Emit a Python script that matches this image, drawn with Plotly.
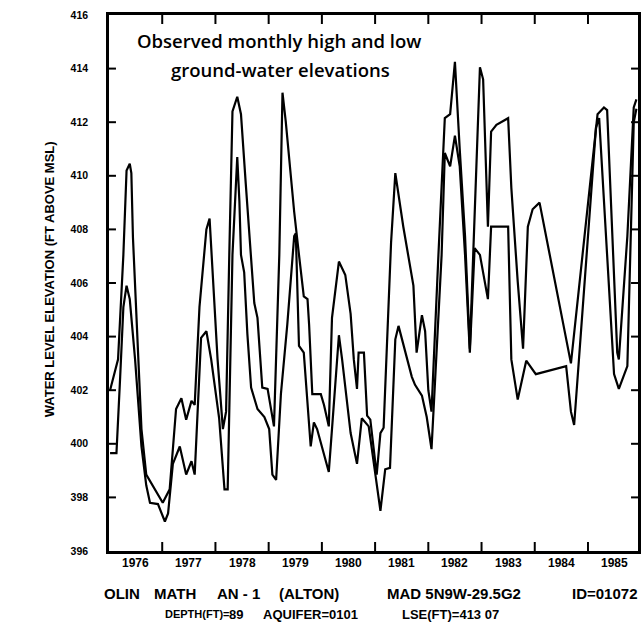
import plotly.graph_objects as go

# Monthly high water level (ft above MSL), decimal year vs elevation
high_year = [1976.02, 1976.17, 1976.27, 1976.33, 1976.39, 1976.42, 1976.45, 1976.52, 1976.61, 1976.70,
             1977.01, 1977.14, 1977.26, 1977.36, 1977.45, 1977.55, 1977.61, 1977.70, 1977.83, 1977.89,
             1977.95, 1978.04, 1978.14, 1978.20, 1978.26, 1978.32, 1978.41, 1978.48, 1978.57, 1978.73,
             1978.79, 1978.88, 1978.98, 1979.07, 1979.10, 1979.20, 1979.26, 1979.32, 1979.48, 1979.57,
             1979.66, 1979.73, 1979.76, 1979.82, 1979.98, 1980.04, 1980.13, 1980.19, 1980.32, 1980.44,
             1980.54, 1980.60, 1980.66, 1980.69, 1980.79, 1980.85, 1980.91, 1981.03, 1981.10, 1981.16,
             1981.30, 1981.38, 1981.53, 1981.72, 1981.78, 1981.88, 1981.94, 1982.00, 1982.06, 1982.19,
             1982.31, 1982.41, 1982.50, 1982.59, 1982.69, 1982.78, 1982.87, 1982.97, 1983.03, 1983.12,
             1983.18, 1983.28, 1983.50, 1983.56, 1983.68, 1983.78, 1983.87, 1983.96, 1984.09, 1984.68,
             1985.18, 1985.30, 1985.36, 1985.55, 1985.58, 1985.74, 1985.86, 1985.91]
high_ft = [402.0, 403.15, 407.05, 410.2, 410.45, 410.1, 407.7, 404.45, 400.55, 398.85,
           397.8, 398.3, 401.3, 401.7, 400.9, 401.6, 401.45, 405.1, 408.0, 408.4,
           406.4, 403.15, 400.55, 401.2, 407.05, 412.4, 412.95, 412.3, 409.7, 405.25,
           404.7, 402.1, 402.05, 401.05, 400.65, 407.05, 413.1, 412.05, 408.65, 407.05,
           405.5, 405.4, 404.45, 401.85, 401.85, 401.45, 400.65, 404.7, 406.8, 406.3,
           404.85, 403.15, 402.05, 403.4, 403.4, 401.05, 400.9, 398.85, 400.4, 400.6,
           407.5, 410.1, 408.1, 405.9, 403.4, 404.8, 404.2, 402.0, 401.2, 407.05,
           412.15, 412.3, 414.25, 411.0, 407.75, 403.55, 408.4, 414.05, 413.6, 408.1,
           411.65, 411.9, 412.15, 409.55, 406.05, 403.55, 408.1, 408.75, 409.0, 403.0,
           412.3, 412.55, 412.45, 403.4, 403.15, 407.75, 412.55, 412.85]

# Monthly low water level (ft above MSL)
low_year = [1976.02, 1976.14, 1976.21, 1976.27, 1976.33, 1976.39, 1976.49, 1976.61, 1976.70, 1976.77,
            1976.92, 1977.05, 1977.11, 1977.20, 1977.33, 1977.45, 1977.55, 1977.61, 1977.73, 1977.83,
            1977.92, 1978.07, 1978.17, 1978.23, 1978.32, 1978.41, 1978.45, 1978.48, 1978.54, 1978.60,
            1978.67, 1978.79, 1978.92, 1979.01, 1979.07, 1979.14, 1979.23, 1979.35, 1979.48, 1979.51,
            1979.57, 1979.66, 1979.79, 1979.85, 1979.91, 1980.13, 1980.19, 1980.32, 1980.38, 1980.54,
            1980.66, 1980.75, 1980.88, 1981.00, 1981.10, 1981.19, 1981.28, 1981.38, 1981.44, 1981.69,
            1981.75, 1981.88, 1981.97, 1982.06, 1982.25, 1982.31, 1982.41, 1982.50, 1982.59, 1982.69,
            1982.78, 1982.87, 1982.97, 1983.12, 1983.18, 1983.50, 1983.56, 1983.68, 1983.84, 1984.02,
            1984.59, 1984.68, 1984.74, 1985.15, 1985.21, 1985.49, 1985.58, 1985.74, 1985.86, 1985.91]
low_ft = [399.65, 399.65, 402.5, 405.1, 405.9, 405.4, 403.15, 399.9, 398.45, 397.8,
          397.75, 397.1, 397.4, 399.25, 399.9, 398.85, 399.35, 398.85, 403.95, 404.2,
          403.15, 400.95, 398.3, 398.3, 407.05, 410.7, 409.05, 407.05, 406.4, 404.1,
          402.1, 401.3, 401.0, 400.55, 398.85, 398.65, 401.85, 404.45, 407.75, 407.85,
          403.65, 403.4, 399.9, 400.8, 400.55, 398.95, 400.55, 404.05, 403.15, 400.4,
          399.25, 400.95, 400.65, 398.85, 397.5, 399.05, 399.1, 403.9, 404.4, 402.5,
          402.2, 401.8, 401.0, 399.8, 407.05, 410.85, 410.35, 411.5, 410.35, 407.05,
          403.4, 407.3, 407.05, 405.4, 408.1, 408.1, 403.15, 401.65, 403.1, 402.6,
          402.9, 401.2, 400.7, 411.8, 412.15, 402.6, 402.05, 402.9, 412.0, 412.5]

years = [1976, 1977, 1978, 1979, 1980, 1981, 1982, 1983, 1984, 1985]
elev_ticks = [396, 398, 400, 402, 404, 406, 408, 410, 412, 414, 416]

X_RANGE = [1976, 1985.94]
Y_RANGE = [396, 416]

W, H = 644, 631
L, R, T, B = 109, 3.5, 15, 80
plot_w = W - L - R
plot_h = H - T - B


def px_x(x):
    return (x - L) / plot_w


def px_y(y):
    return (H - B - y) / plot_h


fig = go.Figure()
line_style = dict(color="black", width=2.2)
fig.add_trace(go.Scatter(x=high_year, y=high_ft, mode="lines", line=line_style,
                         name="High", showlegend=False, hoverinfo="skip"))
fig.add_trace(go.Scatter(x=low_year, y=low_ft, mode="lines", line=line_style,
                         name="Low", showlegend=False, hoverinfo="skip"))

# Inward tick marks drawn as one segmented line: year boundaries on the
# bottom/top edges, 2-ft steps on the left/right edges
xt_len = 9 / plot_h * (Y_RANGE[1] - Y_RANGE[0])
yt_len = 7 / plot_w * (X_RANGE[1] - X_RANGE[0])
tick_x, tick_y = [], []
for yr in years[1:]:
    tick_x += [yr, yr, None, yr, yr, None]
    tick_y += [Y_RANGE[0], Y_RANGE[0] + xt_len, None, Y_RANGE[1], Y_RANGE[1] - xt_len, None]
for v in elev_ticks[1:-1]:
    tick_x += [X_RANGE[0], X_RANGE[0] + yt_len, None, X_RANGE[1], X_RANGE[1] - yt_len, None]
    tick_y += [v, v, None, v, v, None]
fig.add_trace(go.Scatter(x=tick_x, y=tick_y, mode="lines",
                         line=dict(color="black", width=2), showlegend=False,
                         hoverinfo="skip", connectgaps=False))

fig.update_xaxes(
    range=X_RANGE,
    showticklabels=False, ticks="",
    showgrid=False, zeroline=False,
    showline=True, linecolor="black", linewidth=2.5, mirror=True,
)
fig.update_yaxes(
    range=Y_RANGE,
    tickmode="array",
    tickvals=elev_ticks,
    ticktext=[str(v) for v in elev_ticks],
    ticks="", showgrid=False, zeroline=False,
    showline=True, linecolor="black", linewidth=2.5, mirror=True,
    tickfont=dict(family="Liberation Sans", size=10.5, color="black", weight="bold"),
    ticklabelstandoff=16,
)

year_font = dict(family="Liberation Sans", size=12, color="black", weight="bold")
annotations = [
    dict(text=str(y), x=y + 0.5, xref="x", y=px_y(563), font=year_font)
    for y in years
]

annotations += [
    dict(text="Observed monthly high and low", x=px_x(280), y=px_y(40),
         font=dict(family="Open Sans", size=18.5, color="black", weight=600)),
    dict(text="ground-water elevations", x=px_x(281), y=px_y(69),
         font=dict(family="Open Sans", size=18.5, color="black", weight=600)),
    dict(text="WATER LEVEL ELEVATION (FT ABOVE MSL)", x=px_x(49), y=px_y(279),
         textangle=-90,
         font=dict(family="Liberation Sans", size=13, color="black", weight="bold")),
]

line1_font = dict(family="Liberation Sans", size=15, color="black", weight="bold")
line2_font = dict(family="Liberation Sans", size=13, color="black", weight="bold")
footer = [
    ("OLIN", 102, 593, "left", line1_font),
    ("MATH", 152, 593, "left", line1_font),
    ("AN - 1", 216, 593, "left", line1_font),
    ("(ALTON)", 278, 593, "left", line1_font),
    ("MAD 5N9W-29.5G2", 386, 593, "left", line1_font),
    ("ID=01072", 642, 593, "right", line1_font),
    ("DEPTH(FT)=", 163, 614, "left",
     dict(family="Liberation Sans", size=11, color="black", weight="bold")),
    ("89", 246, 614, "right", line2_font),
    ("AQUIFER=0101", 262, 614, "left", line2_font),
    ("LSE(FT)=413 07", 401, 614, "left", line2_font),
]
for text, x, y, anchor, font in footer:
    annotations.append(dict(text=text, x=px_x(x), y=px_y(y), xanchor=anchor, font=font))

for a in annotations:
    a.setdefault("xref", "paper")
    a.setdefault("yref", "paper")
    a.setdefault("showarrow", False)
    a.setdefault("xanchor", "center")
    a.setdefault("yanchor", "middle")

fig.update_layout(
    width=W, height=H,
    margin=dict(l=L, r=R, t=T, b=B),
    paper_bgcolor="white", plot_bgcolor="white",
    annotations=annotations,
    showlegend=False,
)

fig.write_html("out.html")
